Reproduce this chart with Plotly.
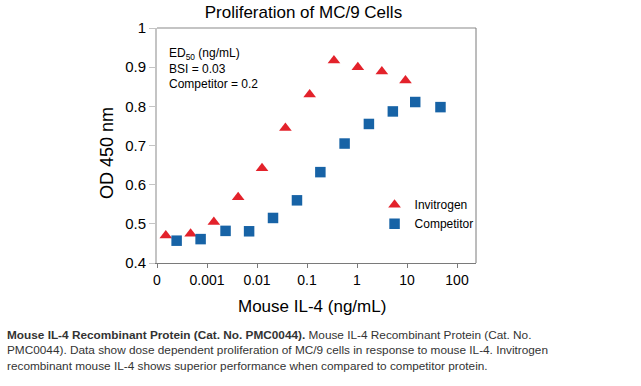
import plotly.graph_objects as go

# Data
invitrogen_x = [1.5e-4, 4.7e-4, 1.37e-3, 4.2e-3, 1.26e-2, 3.7e-2, 0.113, 0.346, 1.04, 3.14, 9.33]
invitrogen_y = [0.470, 0.475, 0.505, 0.568, 0.642, 0.745, 0.830, 0.917, 0.900, 0.889, 0.866]
competitor_x = [2.47e-4, 7.45e-4, 2.35e-3, 6.95e-3, 2.09e-2, 6.3e-2, 0.185, 0.565, 1.73, 5.21, 14.6, 46.7]
competitor_y = [0.457, 0.461, 0.482, 0.481, 0.515, 0.560, 0.632, 0.705, 0.755, 0.787, 0.811, 0.798]
x_tickvals = [1e-4, 1e-3, 1e-2, 1e-1, 1, 10, 100]
x_ticktext = ["0", "0.001", "0.01", "0.1", "1", "10", "100"]

FONT = "Liberation Sans, Arial, sans-serif"
RED = "#e3222b"
BLUE = "#1763a6"

fig = go.Figure()
fig.add_trace(go.Scatter(x=invitrogen_x, y=invitrogen_y, mode="markers", name="Invitrogen",
                         marker=dict(symbol="triangle-up", size=11, color=RED)))
fig.add_trace(go.Scatter(x=competitor_x, y=competitor_y, mode="markers", name="Competitor",
                         marker=dict(symbol="square", size=10.5, color=BLUE)))

fig.update_layout(
    width=641, height=386,
    margin=dict(l=157, r=165, t=28, b=123),
    paper_bgcolor="white", plot_bgcolor="white",
    font=dict(family=FONT, color="black"),
    title=dict(text="Proliferation of MC/9 Cells", font=dict(size=17, color="black", family=FONT),
               x=0.459, xref="paper", xanchor="center", y=1 - 12 / 386, yref="container", yanchor="middle"),
    showlegend=True,
    legend=dict(x=0.682, y=0.31, xanchor="left", yanchor="top", font=dict(size=12, family=FONT),
                bgcolor="rgba(0,0,0,0)", borderwidth=0, tracegroupgap=0),
    xaxis=dict(type="log", range=[-4.0, 2.38], tickvals=x_tickvals, ticktext=x_ticktext,
               showgrid=False, zeroline=False, showline=True, linecolor="#7a7a7a", linewidth=1,
               ticks="outside", ticklen=4, tickcolor="#7a7a7a", tickwidth=1,
               tickfont=dict(size=14, family=FONT, color="black")),
    yaxis=dict(range=[0.4, 1.0], dtick=0.1, tick0=0.4, showgrid=False, zeroline=False,
               showline=True, linecolor="#c4c4c4", linewidth=2,
               ticks="outside", ticklen=6, tickcolor="#c4c4c4", tickwidth=1,
               tickfont=dict(size=15, family=FONT, color="black")),
    shapes=[
        dict(type="line", xref="paper", yref="paper", x0=0, x1=1, y0=1, y1=1,
             line=dict(color="#c4c4c4", width=2)),
        dict(type="line", xref="paper", yref="paper", x0=1, x1=1, y0=0, y1=1,
             line=dict(color="#7a7a7a", width=1)),
    ],
    annotations=[
        dict(text="ED<sub>50</sub> (ng/mL)<br>BSI = 0.03<br>Competitor = 0.2",
             xref="paper", yref="paper", x=0.03, y=0.93, xanchor="left", yanchor="top",
             align="left", showarrow=False, font=dict(size=12, family=FONT, color="black")),
        dict(text="OD 450 nm", textangle=-90, xref="paper", yref="paper",
             x=(107 - 157) / 319, y=(263 - 153) / 235, xanchor="center", yanchor="middle",
             showarrow=False, font=dict(size=18, family=FONT, color="black")),
        dict(text="Mouse IL-4 (ng/mL)", xref="paper", yref="paper",
             x=(312 - 157) / 319, y=(263 - 306) / 235, xanchor="center", yanchor="middle",
             showarrow=False, font=dict(size=17, family=FONT, color="black")),
        dict(text="<b>Mouse IL-4 Recombinant Protein (Cat. No. PMC0044).</b> Mouse IL-4 Recombinant Protein (Cat. No.<br>"
                  "PMC0044). Data show dose dependent proliferation of MC/9 cells in response to mouse IL-4. Invitrogen<br>"
                  "recombinant mouse IL-4 shows superior performance when compared to competitor protein.",
             xref="paper", yref="paper", x=(5 - 157) / 319, y=(263 - 326) / 235,
             xanchor="left", yanchor="top", align="left", showarrow=False,
             font=dict(size=11.8, family=FONT, color="#333333")),
    ],
)

fig.write_html("out.html", config={"displayModeBar": False},
               post_script="document.body.style.margin='0';")
